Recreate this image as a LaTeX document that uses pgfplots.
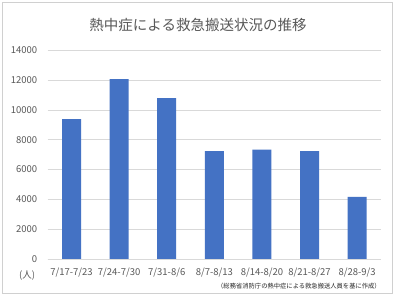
\documentclass[border=0pt]{standalone}
\usepackage{fontspec}
\setmainfont{Noto Sans CJK JP}
\usepackage{pgfplots}
\pgfplotsset{compat=1.18}
\definecolor{barblue}{HTML}{4472C4}
\definecolor{gridgray}{HTML}{D9D9D9}
\definecolor{framegray}{HTML}{D0D0D0}
\definecolor{txtgray}{HTML}{595959}
\begin{document}
\begin{tikzpicture}[x=1bp,y=1bp]
\fill[white] (0,0) rectangle (396,296);
\draw[color=framegray, line width=1bp] (2.5,2.5) rectangle (392.5,293.5);
\begin{axis}[
  at={(47.7bp,37bp)}, anchor=south west,
  scale only axis, width=333.3bp, height=208.7bp,
  ymin=0, ymax=14000, ytick={0,2000,...,14000},
  scaled y ticks=false,
  xmin=-0.5, xmax=6.5, xtick=data,
  xticklabels={7/17-7/23,7/24-7/30,7/31-8/6,8/7-8/13,8/14-8/20,8/21-8/27,8/28-9/3},
  ybar, bar width=19bp,
  axis x line=bottom, axis y line=left,
  axis line style={-},
  x axis line style={draw=gridgray, line width=0.9bp},
  y axis line style={draw=none},
  major tick length=0pt,
  ymajorgrids, grid style={draw=gridgray, line width=0.75bp},
  tick label style={font=\fontsize{9.5bp}{11bp}\selectfont, text=txtgray},
  /pgf/number format/assume math mode=true,
  /pgf/number format/1000 sep={},
  yticklabel style={xshift=-7bp},
  xticklabel style={yshift=-5bp},
]
\addplot[fill=barblue, draw=none] coordinates {(0,9390) (1,12060) (2,10800) (3,7230) (4,7330) (5,7230) (6,4160)};
\end{axis}
\node[font=\fontsize{14.5bp}{17bp}\selectfont, text=txtgray] at (198,271) {熱中症による救急搬送状況の推移};
\node[font=\fontsize{9.5bp}{11bp}\selectfont, text=txtgray] at (27,20) {(人)};
\node[font=\fontsize{6.3bp}{8bp}\selectfont, text=black!85, anchor=east, inner sep=0pt] at (381,10.3) {（総務省消防庁の熱中症による救急搬送人員を基に作成）};
\end{tikzpicture}
\end{document}
